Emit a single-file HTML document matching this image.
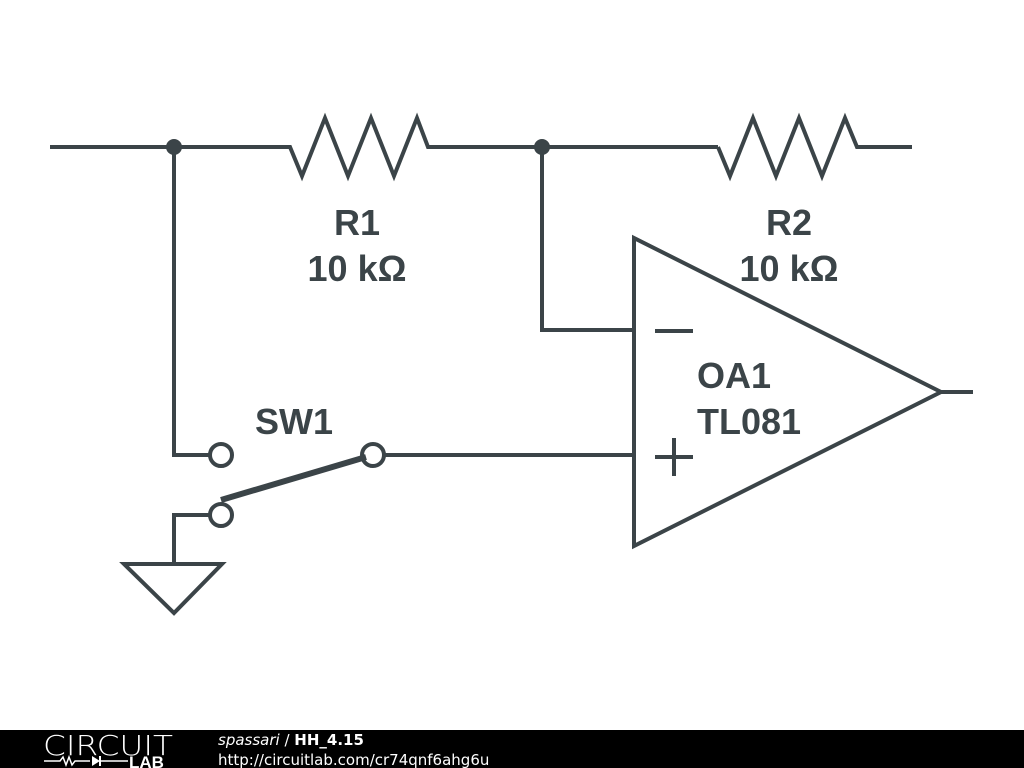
<!DOCTYPE html>
<html><head><style>
body{margin:0;width:1024px;height:768px;background:#fff;overflow:hidden;position:relative;font-family:"Liberation Sans","DejaVu Sans",sans-serif}
</style></head><body>
<svg width="1024" height="768" style="position:absolute;left:0;top:0">
<g stroke="#3b4448" stroke-width="4" fill="none" stroke-linejoin="miter">
<polyline points="50,147 290,147 302,176 325,118 348,176 371,118 394,176 417,118 428,147 718,147"/>
<polyline points="718,147 730,176 753,118 776,176 799,118 822,176 845,118 857,147 912,147"/>
<polyline points="174,147 174,455 210,455"/>
<circle cx="221" cy="455" r="11"/>
<circle cx="221" cy="515" r="11"/>
<circle cx="373" cy="455" r="11"/>
<polyline points="210,515 174,515 174,564"/>
<polygon points="124,564 222,564 174,613"/>
<line x1="384" y1="455" x2="634" y2="455"/>
<polyline points="542,147 542,330 634,330"/>
<polygon points="634,238 634,546 941,392"/>
<line x1="941" y1="392" x2="973" y2="392"/>
<line x1="655" y1="331" x2="693" y2="331"/>
<line x1="655" y1="457" x2="693" y2="457"/>
<line x1="674" y1="438" x2="674" y2="476"/>
<line x1="221" y1="500" x2="366" y2="457" stroke-width="6"/>
</g>
<circle cx="174" cy="147" r="8" fill="#3b4448"/>
<circle cx="542" cy="147" r="8" fill="#3b4448"/>
<g fill="#3b4448" font-family="Liberation Sans, sans-serif" font-weight="bold" font-size="36">
<text x="357" y="235" text-anchor="middle">R1</text>
<text x="357" y="281" text-anchor="middle">10 kΩ</text>
<text x="789" y="235" text-anchor="middle">R2</text>
<text x="789" y="281" text-anchor="middle">10 kΩ</text>
<text x="697" y="388">OA1</text>
<text x="697" y="434">TL081</text>
<text x="255" y="434">SW1</text>
</g>
<rect x="0" y="730" width="1024" height="38" fill="#000"/>
<text x="43" y="755" fill="#fff" font-size="28" font-family="DejaVu Sans, sans-serif" font-weight="200" textLength="130" lengthAdjust="spacingAndGlyphs">CIRCUIT</text>
<polyline points="44,761 60,761 63,757 66,765 69,757 72,765 75,761 90,761" stroke="#fff" stroke-width="1.5" fill="none"/>
<polygon points="92,756 92,766 100,761" fill="#fff"/>
<line x1="100" y1="756" x2="100" y2="766" stroke="#fff" stroke-width="2"/>
<line x1="100" y1="761" x2="128" y2="761" stroke="#fff" stroke-width="1.5"/>
<text x="129" y="768" fill="#fff" font-size="17" font-weight="bold" font-family="Liberation Sans, sans-serif">LAB</text>
<text x="218" y="745" fill="#fff" font-size="15" font-family="DejaVu Sans, sans-serif"><tspan font-style="italic">spassari</tspan> / <tspan font-weight="bold">HH_4.15</tspan></text>
<text x="218" y="765" fill="#fff" font-size="15" font-family="DejaVu Sans, sans-serif">http://circuitlab.com/cr74qnf6ahg6u</text>
</svg>
</body></html>
